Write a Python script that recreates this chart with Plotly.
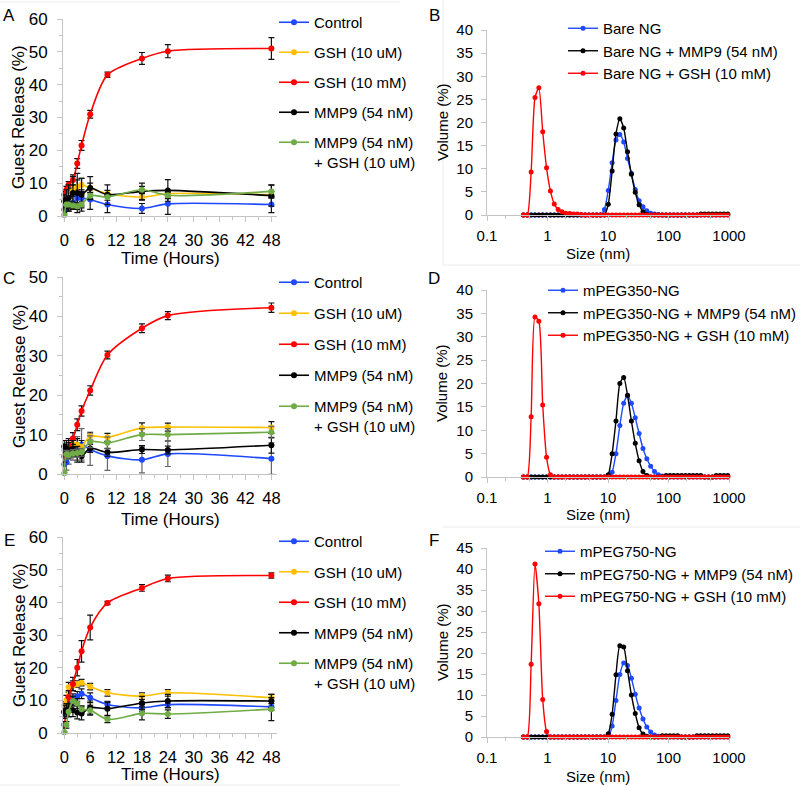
import plotly.graph_objects as go

# ---------------- data ----------------
time_h = [0, 0.5, 1, 2, 3, 4, 6, 10, 18, 24, 48]
release_names = ["Control", "GSH (10 uM)", "GSH (10 mM)", "MMP9 (54 nM)", "MMP9 (54 nM)<br>+ GSH (10 uM)"]

ctrl_A = [2, 3, 3.5, 4, 5.5, 5.5, 5, 3.5, 2.3, 3.7, 3.5]
ctrl_A_err = [1, 1.5, 2, 2, 2.5, 2.5, 3, 2.5, 1.5, 3.2, 2.5]
gshu_A = [5, 6, 7, 8, 9, 9.5, 8.5, 6.8, 5.8, 6.8, 6.5]
gshu_A_err = [1, 1, 1.5, 1.5, 2, 2, 1.5, 1, 1, 1, 1]
gshm_A = [6.5, 8, 9.5, 11, 16, 21.5, 31, 43, 48, 50.2, 51]
gshm_A_err = [1, 1, 1, 1.5, 1.5, 1.5, 1.2, 0.8, 1.8, 2, 3.3]
mmp_A = [4.5, 5, 5.5, 7, 7, 6.5, 8.5, 6.5, 7.5, 7.8, 6.2]
mmp_A_err = [2, 3, 4, 5, 6, 5, 3.5, 3, 2.5, 3.3, 3.2]
mix_A = [0.3, 3.5, 3.5, 3.2, 3, 3.5, 6.2, 5.8, 8, 6.3, 7.5]
mix_A_err = [0.3, 1, 1, 1, 1, 1, 1, 1, 1, 1, 2]

ctrl_C = [2.5, 3, 4.5, 5.5, 6.5, 7.5, 6.2, 4.6, 3.6, 5.1, 3.9]
ctrl_C_err = [2, 2, 2, 2, 3, 4, 4, 3.7, 3.3, 3.2, 4]
gshu_C = [6, 7, 7.5, 7.5, 7.5, 7, 9.6, 9.3, 11.7, 11.9, 11.8]
gshu_C_err = [1.5, 1.5, 1.5, 1.5, 1.5, 1.5, 1, 1, 1.3, 1, 1.5]
gshm_C = [4.5, 6, 7, 9, 12.5, 16, 21.2, 30.2, 37, 40.2, 42.2]
gshm_C_err = [1.5, 1.5, 1.5, 1.5, 1.5, 1.3, 1.2, 1, 1.1, 1, 1.2]
mmp_C = [7, 6.5, 6, 6.5, 5, 4.5, 6.5, 5.5, 6.2, 6.1, 7.3]
mmp_C_err = [1.5, 2, 2, 2, 2, 1.5, 1, 1, 1, 1, 2]
mix_C = [0.2, 5, 4.8, 5.2, 5.3, 5.5, 8.2, 7.9, 10, 10, 10.6]
mix_C_err = [0.2, 1, 1, 1, 1, 1, 1.5, 1.5, 1.5, 1.5, 1.5]

ctrl_E = [6.3, 8, 9.5, 10.5, 11.2, 12, 10.8, 8.7, 7.7, 8.7, 8]
ctrl_E_err = [1, 1, 1.5, 1.5, 1.5, 1.5, 1.5, 1, 1, 1, 1]
gshu_E = [8.5, 10, 14, 14.5, 15, 15.4, 14.2, 12.3, 11.3, 12.3, 10.8]
gshu_E_err = [1, 1.5, 1.5, 1.5, 1, 1, 1, 1, 1, 1, 1]
gshm_E = [2.5, 7, 11, 15, 20, 25, 32.3, 39.8, 44.4, 47.3, 48.2]
gshm_E_err = [1, 1.5, 2, 2, 2.5, 3.3, 3.8, 0.5, 1, 1, 0.8]
mmp_E = [6.5, 7, 7, 7, 6.3, 6, 7.8, 7.4, 9.2, 9.8, 9.8]
mmp_E_err = [2, 2, 2, 2, 2, 2, 2, 2, 2, 2, 2]
mix_E = [0.2, 2.5, 6.5, 9.8, 9, 7.3, 7, 4.2, 6, 5.8, 7.3]
mix_E_err = [0.2, 1, 1.5, 1.5, 1.5, 1, 1.5, 1, 2, 1.3, 3.5]

size_nm = [0.4, 0.4632, 0.5365, 0.6213, 0.7195, 0.8332, 0.9649, 1.117, 1.294, 1.499,
           1.736, 2.010, 2.328, 2.696, 3.122, 3.615, 4.187, 4.849, 5.615, 6.503,
           7.531, 8.721, 10.10, 11.70, 13.54, 15.69, 18.17, 21.04, 24.36, 28.21,
           32.67, 37.84, 43.82, 50.75, 58.77, 68.06, 78.82, 91.28, 105.7, 122.4,
           141.8, 164.2, 190.1, 220.2, 255.0, 295.3, 342.0, 396.1, 458.7, 531.2,
           615.1, 712.4, 825.0, 955.4]

bare_B = [0]*21 + [1.2, 5.3, 11.3, 16.2, 17.4, 15.8, 12.2, 9.0, 5.5, 3.1, 1.8, 0.9, 0.4, 0.2, 0.1] + [0]*18
bare_mmp_B = [0]*22 + [2.3, 9.5, 17.5, 20.8, 18.8, 13.7, 8.8, 4.9, 2.2, 0.7, 0.1] + [0]*13 + [0.2]*8
bare_gsh_B = [0, 0, 9.3, 25.4, 27.5, 18, 10.2, 5.2, 2.4, 1.2, 0.7, 0.4, 0.3, 0.2, 0.2, 0.1] + [0]*38

peg350_D = [0]*23 + [1.0, 5.0, 11.0, 15.8, 17.4, 15.8, 12.7, 9.3, 6.1, 3.9, 2.3, 1.2, 0.5, 0.2] + [0]*17
peg350_mmp_D = [0]*22 + [0.5, 5, 12, 20, 21.3, 17.5, 12, 7.2, 3.5, 1.2, 0.3] + [0]*4 + [0.3]*10 + [0]*3 + [0.3]*4
peg350_gsh_D = [0, 0, 12.9, 34.2, 33.3, 15.4, 4.2, 0.5] + [0]*46

peg750_F = [0]*23 + [2.6, 8.7, 14.9, 17.6, 17.0, 14.0, 10.2, 6.9, 4.3, 2.4, 1.2, 0.5, 0.2] + [0]*18
peg750_mmp_F = [0]*22 + [0.8, 5.4, 14.8, 21.7, 21.4, 15.8, 10, 5.6, 2.2, 0.7, 0.2] + [0]*3 + [0.3]*5 + [0]*4 + [0.3]*9
peg750_gsh_F = [0, 0, 17.3, 41.2, 31.7, 8.9, 1.3] + [0]*47

# ---------------- styling ----------------
W, H = 800, 787
FONT = "Arial, Liberation Sans, sans-serif"
C_BLUE, C_YEL, C_RED, C_BLK, C_GRN = "#1f49ff", "#ffc000", "#ff0000", "#000000", "#6fac46"
AXC = "#c4c4c4"

def fx(p):
    return p / W

def fy(p):
    return 1 - p / H

fig = go.Figure()

def add_release(ax, leg, series, errs, errcols):
    cols = [C_BLUE, C_YEL, C_RED, C_BLK, C_GRN]
    for i, (name, ys, es) in enumerate(zip(release_names, series, errs)):
        fig.add_trace(go.Scatter(
            x=time_h, y=ys, name=name, mode="lines+markers",
            line=dict(color=cols[i], width=1.6, shape="spline", smoothing=0.8),
            marker=dict(color=cols[i], size=6),
            error_y=dict(type="data", array=es, color=errcols[i], thickness=1.2, width=3),
            xaxis="x" + ax, yaxis="y" + ax, legend=leg, legendgroup=leg + str(i),
            cliponaxis=False))

def add_dls(ax, leg, names, series):
    cols = [C_BLUE, C_BLK, C_RED]
    for name, ys, col in zip(names, series, cols):
        fig.add_trace(go.Scatter(
            x=size_nm, y=ys, name=name, mode="lines+markers",
            line=dict(color=col, width=1.4, shape="spline", smoothing=0.6),
            marker=dict(color=col, size=5),
            xaxis="x" + ax, yaxis="y" + ax, legend=leg, cliponaxis=False))

dark = ["#111"] * 5
add_release("", "legend", [ctrl_A, gshu_A, gshm_A, mmp_A, mix_A],
            [ctrl_A_err, gshu_A_err, gshm_A_err, mmp_A_err, mix_A_err], dark)
add_dls("2", "legend4", ["Bare NG", "Bare NG + MMP9 (54 nM)", "Bare NG + GSH (10 mM)"],
        [bare_B, bare_mmp_B, bare_gsh_B])
add_release("3", "legend2", [ctrl_C, gshu_C, gshm_C, mmp_C, mix_C],
            [ctrl_C_err, gshu_C_err, gshm_C_err, mmp_C_err, mix_C_err],
            ["#666", "#111", "#111", "#111", "#666"])
add_dls("4", "legend5", ["mPEG350-NG", "mPEG350-NG + MMP9 (54 nM)", "mPEG350-NG + GSH (10 mM)"],
        [peg350_D, peg350_mmp_D, peg350_gsh_D])
add_release("5", "legend3", [ctrl_E, gshu_E, gshm_E, mmp_E, mix_E],
            [ctrl_E_err, gshu_E_err, gshm_E_err, mmp_E_err, mix_E_err], dark)
add_dls("6", "legend6", ["mPEG750-NG", "mPEG750-NG + MMP9 (54 nM)", "mPEG750-NG + GSH (10 mM)"],
        [peg750_F, peg750_mmp_F, peg750_gsh_F])

def time_x(anchor):
    return dict(domain=[fx(63), fx(277)], range=[-0.3, 49.3], anchor=anchor, automargin=False,
                tickvals=[0, 6, 12, 18, 24, 30, 36, 42, 48],
                showline=True, linecolor=AXC, linewidth=1, ticks="outside", tickcolor=AXC,
                ticklen=5, showgrid=False, zeroline=False,
                minor=dict(ticks="outside", ticklen=3, tickcolor=AXC, dtick=3),
                tickfont=dict(size=16.5, color="black", family=FONT), ticklabelstandoff=4)

def rel_y(anchor, top, bot, ymax):
    return dict(domain=[fy(bot), fy(top)], range=[0, ymax], anchor=anchor, dtick=10,
                automargin=False,
                showline=True, linecolor=AXC, linewidth=1, ticks="outside", tickcolor=AXC,
                ticklen=5, showgrid=False, zeroline=False,
                minor=dict(ticks="outside", ticklen=3, tickcolor=AXC, dtick=5),
                tickfont=dict(size=17, color="black", family=FONT), ticklabelstandoff=6)

def size_x(anchor):
    return dict(domain=[fx(487), fx(729)], type="log", range=[-1, 3], anchor=anchor,
                automargin=False,
                tickvals=[0.1, 1, 10, 100, 1000], ticktext=["0.1", "1", "10", "100", "1000"],
                showline=True, linecolor=AXC, linewidth=1, ticks="outside", tickcolor=AXC,
                ticklen=5, showgrid=False, zeroline=False,
                minor=dict(ticks="outside", ticklen=3, tickcolor=AXC,
                           tickvals=[0.2, 0.5, 2, 5, 20, 50, 200, 500]),
                tickfont=dict(size=15, color="black", family=FONT), ticklabelstandoff=2)

def vol_y(anchor, top, bot, ymax):
    return dict(domain=[fy(bot), fy(top)], range=[0, ymax], anchor=anchor, dtick=5,
                automargin=False,
                showline=True, linecolor=AXC, linewidth=1, ticks="outside", tickcolor=AXC,
                ticklen=5, showgrid=False, zeroline=False,
                tickfont=dict(size=15, color="black", family=FONT), ticklabelstandoff=5)

def rel_legend(top, gap):
    return dict(x=fx(274), y=fy(top), xanchor="left", yanchor="top", bgcolor="rgba(0,0,0,0)",
                font=dict(size=15, color="black", family=FONT), tracegroupgap=gap,
                valign="top", itemwidth=30)

def dls_legend(left, top):
    return dict(x=fx(left), y=fy(top), xanchor="left", yanchor="top", bgcolor="rgba(0,0,0,0)",
                font=dict(size=15, color="black", family=FONT), tracegroupgap=0,
                itemwidth=30)

ann = []
def txt(x, y, s, size, angle=0):
    ann.append(dict(x=fx(x), y=fy(y), xref="paper", yref="paper", text=s, showarrow=False,
                    textangle=angle, font=dict(size=size, color="black", family=FONT),
                    xanchor="center", yanchor="middle"))

for letter, x, y in [("A", 9, 16), ("B", 434, 16), ("C", 9, 278), ("D", 434, 278),
                     ("E", 9, 540), ("F", 434, 540)]:
    txt(x, y, letter, 17)
for yc, yt in [(258, 117), (519, 376), (774, 635)]:
    txt(170, yc, "Time (Hours)", 17)
    txt(19, yt, "Guest Release (%)", 17, -90)
for yc, yt in [(253, 122), (514, 383), (776, 642)]:
    txt(598, yc, "Size (nm)", 15)
    txt(442, yt, "Volume (%)", 15, -90)

shapes = []
def hline(x0, x1, y):
    shapes.append(dict(type="line", xref="paper", yref="paper", x0=fx(x0), x1=fx(x1),
                       y0=fy(y), y1=fy(y), line=dict(color="#ececec", width=1)))
def vline(x, y0, y1):
    shapes.append(dict(type="line", xref="paper", yref="paper", x0=fx(x), x1=fx(x),
                       y0=fy(y0), y1=fy(y1), line=dict(color="#ececec", width=1)))
hline(0, 400, 2)
hline(443, 800, 265)
hline(443, 800, 527)
vline(443, 0, 265)
hline(0, 400, 785)

fig.update_layout(
    width=W, height=H, margin=dict(l=0, r=0, t=0, b=0, autoexpand=False),
    paper_bgcolor="white", plot_bgcolor="white",
    font=dict(family=FONT, color="black"),
    xaxis=time_x("y"), yaxis=rel_y("x", 19, 216, 60),
    xaxis2=size_x("y2"), yaxis2=vol_y("x2", 30, 215, 40),
    xaxis3=time_x("y3"), yaxis3=rel_y("x3", 277, 474, 50),
    xaxis4=size_x("y4"), yaxis4=vol_y("x4", 290, 477, 40),
    xaxis5=time_x("y5"), yaxis5=rel_y("x5", 537, 733, 60),
    xaxis6=size_x("y6"), yaxis6=vol_y("x6", 548, 737, 45),
    legend=rel_legend(6, 7.5), legend2=rel_legend(266, 8.5), legend3=rel_legend(525, 8),
    legend4=dls_legend(563, 12), legend5=dls_legend(543, 274), legend6=dls_legend(540, 535),
    annotations=ann, shapes=shapes, showlegend=True,
)

fig.write_html("out.html", config={"displayModeBar": False},
               post_script="document.body.style.margin='0px';")
